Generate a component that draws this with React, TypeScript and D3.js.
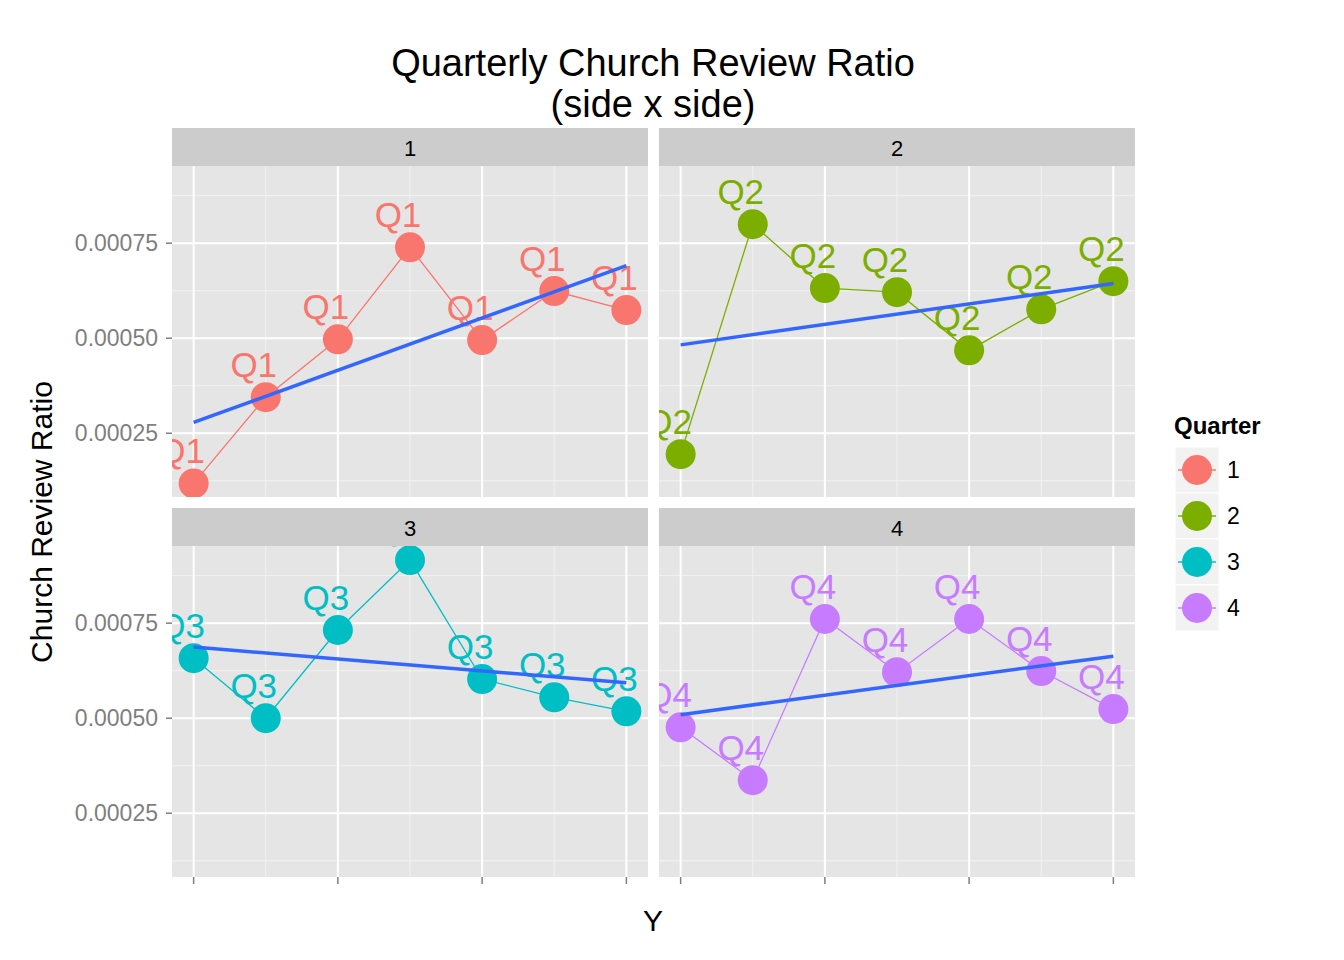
import React from 'react';
import * as d3 from 'd3';

const years = [1, 2, 3, 4, 5, 6, 7];
const quarters = ['1', '2', '3', '4'];
const colors = ['#F8766D', '#7CAE00', '#00BFC4', '#C77CFF'];
const q1 = [0.000118, 0.000345, 0.000497, 0.000739, 0.000495, 0.000624, 0.000574];
const q2 = [0.000195, 0.0008, 0.000632, 0.000621, 0.000468, 0.000576, 0.00065];
const q3 = [0.000658, 0.0005, 0.000732, 0.000916, 0.000603, 0.000555, 0.000518];
const q4 = [0.000476, 0.000337, 0.000761, 0.000621, 0.000761, 0.000624, 0.000524];
const series = [q1, q2, q3, q4];
const yTicks = [0.00025, 0.0005, 0.00075];

const panels = [
  { x0: 172, x1: 648, top: 128 },
  { x0: 659, x1: 1135, top: 128 },
  { x0: 172, x1: 648, top: 508 },
  { x0: 659, x1: 1135, top: 508 },
];
const stripH = 38;
const panelH = 331;

function fit(ys: number[]) {
  const mx = d3.mean(years)!, my = d3.mean(ys)!;
  let sxy = 0, sxx = 0;
  years.forEach((x, i) => { sxy += (x - mx) * (ys[i] - my); sxx += (x - mx) ** 2; });
  const b = sxy / sxx;
  return (x: number) => my + b * (x - mx);
}

export default function App() {
  const font = 'Liberation Sans, Arial, sans-serif';
  return (
    <svg width={1344} height={960} style={{ position: 'absolute', left: 0, top: 0 }} fontFamily={font}>
      <rect width={1344} height={960} fill="#fff" />
      <text x={653} y={76} textAnchor="middle" fontSize={38}>Quarterly Church Review Ratio</text>
      <text x={653} y={117} textAnchor="middle" fontSize={38}>(side x side)</text>
      {panels.map((p, k) => {
        const py = p.top + stripH;
        const x = d3.scaleLinear().domain([0.7, 7.3]).range([p.x0, p.x1]);
        const y = d3.scaleLinear().domain([0.0000823, 0.000953]).range([py + panelH, py]);
        const minorX = [2, 4, 6];
        const minorY = [0.000125, 0.000375, 0.000625, 0.000875];
        const f = fit(series[k]);
        const line = d3.line<number>().x((_, i) => x(years[i])).y(v => y(v));
        return (
          <g key={k}>
            <defs>
              <clipPath id={`c${k}`}><rect x={p.x0} y={py} width={p.x1 - p.x0} height={panelH} /></clipPath>
            </defs>
            <rect x={p.x0} y={p.top} width={p.x1 - p.x0} height={stripH} fill="#CCCCCC" />
            <text x={(p.x0 + p.x1) / 2} y={p.top + 28} textAnchor="middle" fontSize={22}>{quarters[k]}</text>
            <rect x={p.x0} y={py} width={p.x1 - p.x0} height={panelH} fill="#E5E5E5" />
            {minorX.map(v => <line key={'mx' + v} x1={x(v)} x2={x(v)} y1={py} y2={py + panelH} stroke="#F2F2F2" strokeWidth={1} />)}
            {minorY.map(v => <line key={'my' + v} x1={p.x0} x2={p.x1} y1={y(v)} y2={y(v)} stroke="#F2F2F2" strokeWidth={1} />)}
            {[1, 3, 5, 7].map(v => <line key={'gx' + v} x1={x(v)} x2={x(v)} y1={py} y2={py + panelH} stroke="#fff" strokeWidth={2} />)}
            {yTicks.map(v => <line key={'gy' + v} x1={p.x0} x2={p.x1} y1={y(v)} y2={y(v)} stroke="#fff" strokeWidth={2} />)}
            <g clipPath={`url(#c${k})`}>
              <path d={line(series[k])!} fill="none" stroke={colors[k]} strokeWidth={1.3} />
              {series[k].map((v, i) => (
                <circle key={i} cx={x(years[i])} cy={y(v)} r={15} fill={colors[k]} />
              ))}
              {series[k].map((v, i) => (
                <text key={'t' + i} x={x(years[i]) - 12} y={y(v) - 20} textAnchor="middle" fontSize={35} fill={colors[k]}>{'Q' + quarters[k]}</text>
              ))}
              <line x1={x(1)} x2={x(7)} y1={y(f(1))} y2={y(f(7))} stroke="#3366FF" strokeWidth={3.5} />
            </g>
            {p.x0 === 172 && yTicks.map(v => (
              <g key={'yt' + v}>
                <line x1={p.x0 - 6} x2={p.x0} y1={y(v)} y2={y(v)} stroke="#7F7F7F" strokeWidth={1.5} />
                <text x={p.x0 - 14} y={y(v) + 8} textAnchor="end" fontSize={23} fill="#7F7F7F">{v.toFixed(5)}</text>
              </g>
            ))}
            {k >= 2 && [1, 3, 5, 7].map(v => (
              <line key={'xt' + v} x1={x(v)} x2={x(v)} y1={py + panelH} y2={py + panelH + 7} stroke="#7F7F7F" strokeWidth={1.5} />
            ))}
          </g>
        );
      })}
      <text x={653} y={931} textAnchor="middle" fontSize={30}>Y</text>
      <text transform="translate(52,522) rotate(-90)" textAnchor="middle" fontSize={30}>Church Review Ratio</text>
      <text x={1174} y={434} fontSize={24} fontWeight="bold">Quarter</text>
      {quarters.map((q, i) => (
        <g key={q}>
          <rect x={1175} y={447 + i * 46} width={44} height={46} fill="#F2F2F2" stroke="#fff" strokeWidth={1} />
          <line x1={1178} x2={1216} y1={470 + i * 46} y2={470 + i * 46} stroke={colors[i]} strokeWidth={1.3} />
          <circle cx={1197} cy={470 + i * 46} r={15} fill={colors[i]} />
          <text x={1227} y={478 + i * 46} fontSize={23}>{q}</text>
        </g>
      ))}
    </svg>
  );
}
